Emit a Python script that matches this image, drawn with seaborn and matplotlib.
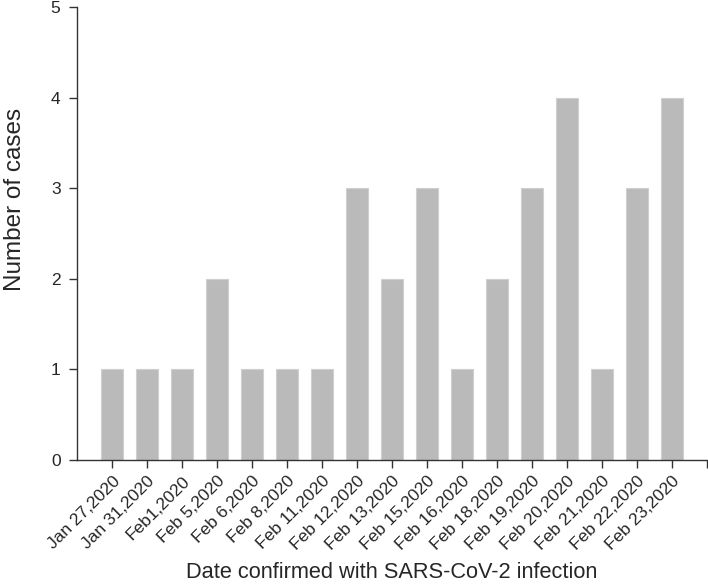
import pandas as pd
import matplotlib.pyplot as plt
import seaborn as sns

# daily confirmed SARS-CoV-2 cases
dates = ['Jan 27,2020', 'Jan 31,2020', 'Feb1,2020', 'Feb 5,2020', 'Feb 6,2020',
         'Feb 8,2020', 'Feb 11,2020', 'Feb 12,2020', 'Feb 13,2020', 'Feb 15,2020',
         'Feb 16,2020', 'Feb 18,2020', 'Feb 19,2020', 'Feb 20,2020', 'Feb 21,2020',
         'Feb 22,2020', 'Feb 23,2020']
cases = [1, 1, 1, 2, 1, 1, 1, 3, 2, 3, 1, 2, 3, 4, 1, 3, 4]

data = pd.DataFrame({'date': dates, 'cases': cases})

sns.set_style('ticks')
plt.rcParams['font.family'] = ['Liberation Sans', 'DejaVu Sans']

fig = plt.figure(figsize=(7.08, 5.84), dpi=100)
ax = fig.add_axes([0.109, 0.2123, 0.8896, 0.7757])
sns.barplot(x='date', y='cases', data=data, color='#bababa', edgecolor='#cfcfcf',
            linewidth=0.8, width=0.63, saturation=1, ax=ax)

ax.set_xlim(-1, 17)
ax.set_ylim(0, 5)
ax.set_yticks(range(6))
ax.set_xticks(range(len(dates)))
ax.set_xticks([17], minor=True)
ax.set_xticklabels(dates, rotation=45, ha='right', rotation_mode='anchor', fontsize=12.5)
ax.tick_params(axis='y', labelsize=12.5, pad=6)
ax.tick_params(axis='both', which='both', direction='out', length=6, width=1, color='#333333')
for s in ['top', 'right']:
    ax.spines[s].set_visible(False)
for s in ['left', 'bottom']:
    ax.spines[s].set_color('#333333')
    ax.spines[s].set_linewidth(1)

ax.set_ylabel('Number of cases', fontsize=17.5)
ax.yaxis.set_label_coords(-0.082, 0.576)
ax.set_xlabel('Date confirmed with SARS-CoV-2 infection', fontsize=15.7, labelpad=7)

plt.savefig('out.png', dpi=100)
